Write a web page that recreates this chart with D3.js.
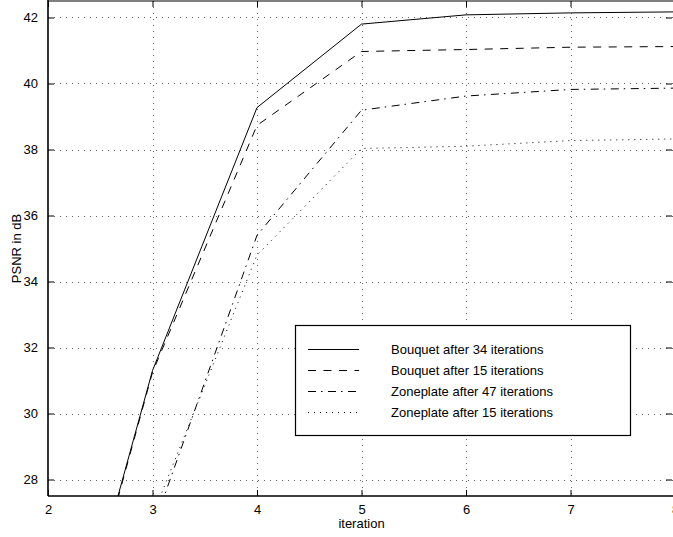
<!DOCTYPE html>
<html>
<head>
<meta charset="utf-8">
<script src="https://cdn.jsdelivr.net/npm/d3@7"></script>
<style>
  html, body { margin: 0; padding: 0; background: #fff; overflow: hidden; }
  svg { display: block; font-family: "Liberation Sans", Arial, Helvetica, sans-serif; }
</style>
</head>
<body>
<svg id="chart" width="673" height="537"></svg>
<script>
// ---- data ----
const iterations = [2, 3, 4, 5, 6, 7, 8];
const bouquet34 = [19.8, 31.3, 39.27, 41.8, 42.08, 42.14, 42.17];
const bouquet15 = [19.7, 31.25, 38.73, 40.97, 41.03, 41.1, 41.12];
const zoneplate47 = [17.5, 26.5, 35.4, 39.19, 39.62, 39.82, 39.86];
const zoneplate15 = [19.0, 26.9, 34.8, 38.03, 38.1, 38.27, 38.32];
const seriesNames = ["Bouquet after 34 iterations", "Bouquet after 15 iterations",
                     "Zoneplate after 47 iterations", "Zoneplate after 15 iterations"];
const xTicks = [2, 3, 4, 5, 6, 7, 8];
const yTicks = [28, 30, 32, 34, 36, 38, 40, 42];

// ---- layout ----
const L = 48, R = 675, T = 1, B = 496;
const svg = d3.select("#chart");
const x = d3.scaleLinear().domain([2, 8]).range([L, R]);
const y = d3.scaleLinear().domain([27.5, 42.5]).range([B, T]);

const styles = [
  { dash: null },
  { dash: "8,7.5" },
  { dash: "8,5,1.5,5.5" },
  { dash: "1,5" }
];
const seriesData = [bouquet34, bouquet15, zoneplate47, zoneplate15];

// grid
const grid = svg.append("g").attr("stroke", "#666").attr("stroke-width", 1).attr("stroke-dasharray", "1,5");
xTicks.forEach(t => {
  if (t === 2 || t === 8) return;
  grid.append("line").attr("x1", Math.round(x(t)) + 0.5).attr("x2", Math.round(x(t)) + 0.5)
    .attr("y1", T).attr("y2", B);
});
yTicks.forEach(t => {
  grid.append("line").attr("x1", L).attr("x2", R)
    .attr("y1", Math.round(y(t)) + 0.5).attr("y2", Math.round(y(t)) + 0.5);
});

// clip
svg.append("clipPath").attr("id", "clip").append("rect")
  .attr("x", L).attr("y", T).attr("width", R - L).attr("height", B - T);

const line = d3.line().x((d, i) => x(iterations[i])).y(d => y(d));
const lines = svg.append("g").attr("clip-path", "url(#clip)");
seriesData.forEach((s, k) => {
  lines.append("path").datum(s).attr("d", line)
    .attr("fill", "none").attr("stroke", "#000").attr("stroke-width", 1)
    .attr("stroke-dasharray", styles[k].dash);
});

// axes using d3 axis generators (inward ticks)
const fontSize = 13;
const xAxis = svg.append("g").attr("transform", `translate(0,${B})`)
  .call(d3.axisBottom(x).tickValues(xTicks).tickSizeInner(-6).tickSizeOuter(0).tickPadding(9).tickFormat(d3.format("d")));
const yAxis = svg.append("g").attr("transform", `translate(${L},0)`)
  .call(d3.axisLeft(y).tickValues(yTicks).tickSizeInner(-6).tickSizeOuter(0).tickPadding(10).tickFormat(d3.format("d")));
const xTop = svg.append("g").attr("transform", `translate(0,${T})`)
  .call(d3.axisTop(x).tickValues(xTicks).tickSizeInner(-6).tickSizeOuter(0).tickFormat(""));
const yRight = svg.append("g").attr("transform", `translate(${R - 3},0)`)
  .call(d3.axisRight(y).tickValues(yTicks).tickSizeInner(-6).tickSizeOuter(0).tickFormat(""));
[xAxis, yAxis, xTop, yRight].forEach(g => {
  g.selectAll(".domain").remove();
  g.selectAll("line").attr("stroke", "#000").attr("stroke-width", 1);
  g.selectAll("text").attr("font-size", fontSize).attr("fill", "#000")
    .attr("font-family", "'Liberation Sans', Arial, sans-serif");
});
xAxis.selectAll("text").attr("dy", "0.71em");

// frame
svg.append("line").attr("x1", L).attr("x2", R).attr("y1", B).attr("y2", B)
  .attr("stroke", "#000").attr("stroke-width", 1.6);
svg.append("line").attr("x1", L).attr("x2", L).attr("y1", T - 1).attr("y2", B)
  .attr("stroke", "#000").attr("stroke-width", 1.6);
svg.append("line").attr("x1", L).attr("x2", R).attr("y1", T).attr("y2", T)
  .attr("stroke", "#000").attr("stroke-width", 1);

// axis titles
svg.append("text").attr("x", (L + R) / 2).attr("y", 528).attr("text-anchor", "middle")
  .attr("font-size", fontSize).text("iteration");
svg.append("text").attr("transform", `translate(21,${(T + B) / 2}) rotate(-90)`)
  .attr("text-anchor", "middle").attr("font-size", fontSize).text("PSNR in dB");

// legend
const lg = svg.append("g");
lg.append("rect").attr("x", 295.5).attr("y", 325.5).attr("width", 335).attr("height", 110)
  .attr("fill", "#fff").attr("stroke", "#000").attr("stroke-width", 1.2);
const rowY = [349.5, 370.5, 391.5, 412.5];
seriesNames.forEach((name, k) => {
  lg.append("line").attr("x1", 308).attr("x2", 359).attr("y1", rowY[k]).attr("y2", rowY[k])
    .attr("stroke", "#000").attr("stroke-width", 1).attr("stroke-dasharray", styles[k].dash);
  lg.append("text").attr("x", 391).attr("y", rowY[k] + 4.5).attr("font-size", fontSize).text(name);
});
</script>
</body>
</html>
